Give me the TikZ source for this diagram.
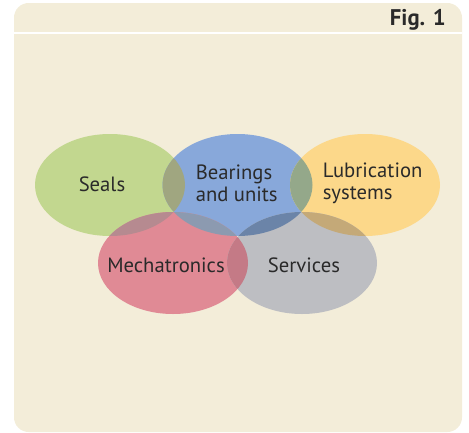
\documentclass[tikz,border=0pt]{standalone}
\usepackage{fontspec}
\setmainfont{PT Sans}
\usetikzlibrary{shapes.geometric}

\definecolor{panelbg}{HTML}{F3EDD9}
\definecolor{textgrey}{HTML}{2A2A2A}
\definecolor{sealgreen}{HTML}{C2D78F}
\definecolor{bearblue}{HTML}{88A8DA}
\definecolor{lubeyellow}{HTML}{FCD88A}
\definecolor{mechred}{HTML}{E08A95}
\definecolor{servgrey}{HTML}{BDBEC2}
% overlaps
\definecolor{ovGB}{HTML}{A0A680}
\definecolor{ovBY}{HTML}{94A88A}
\definecolor{ovGR}{HTML}{B68A90}
\definecolor{ovBR}{HTML}{8C9AB0}
\definecolor{ovBS}{HTML}{6B84A8}
\definecolor{ovYS}{HTML}{C4A978}
\definecolor{ovRS}{HTML}{C47A86}
\definecolor{ovBRS}{HTML}{7A819E}

\tikzset{
  ring/.style={ellipse,minimum width=112.5pt,minimum height=76.5pt,inner sep=0pt},
  ringtext/.style={font=\fontsize{15.5}{16.5}\selectfont,text=textgrey,align=left,inner sep=0pt}
}

\begin{document}
\begin{tikzpicture}[x=0.75pt,y=-0.75pt]
  \useasboundingbox (0,0) rectangle (469,433);
  % panel
  \fill[panelbg,rounded corners=11pt] (14,3) rectangle (462,432);
  \draw[white,line width=1.2pt] (14,33) -- (462,33);
  \node[font=\fontsize{17}{17}\selectfont\bfseries,text=textgrey,anchor=base east,inner sep=0pt] (fig) at (446,25) {Fig. 1};

  \coordinate (seals) at (110,185);
  \coordinate (bear) at (237.5,185);
  \coordinate (lube) at (365,185);
  \coordinate (mech) at (173,263);
  \coordinate (serv) at (302,263);

  \node[ring,fill=sealgreen] (sealsring) at (seals) {};
  \node[ring,fill=bearblue] (bearring) at (bear) {};
  \node[ring,fill=lubeyellow] (lubering) at (lube) {};
  \node[ring,fill=mechred] (mechring) at (mech) {};
  \node[ring,fill=servgrey] (servring) at (serv) {};

  % overlaps
  \foreach \a/\b/\col in {seals/bear/ovGB, bear/lube/ovBY, seals/mech/ovGR,
      bear/mech/ovBR, bear/serv/ovBS, lube/serv/ovYS, mech/serv/ovRS}
  {
    \begin{scope}
      \clip (\a) ellipse [x radius=75,y radius=51];
      \fill[\col] (\b) ellipse [x radius=75,y radius=51];
    \end{scope}
  }
  \begin{scope}
    \clip (bear) ellipse [x radius=75,y radius=51];
    \clip (mech) ellipse [x radius=75,y radius=51];
    \fill[ovBRS] (serv) ellipse [x radius=75,y radius=51];
  \end{scope}

  % labels
  \node[ringtext] (sealstext) at (102,184) {Seals};
  \node[ringtext,anchor=west] (beartext) at (195.5,183) {Bearings\\and units};
  \node[ringtext,anchor=west] (lubetext) at (322.5,183) {Lubrication\\systems};
  \node[ringtext] (mechtext) at (166,265) {Mechatronics};
  \node[ringtext] (servtext) at (304,265) {Services};
\end{tikzpicture}
\end{document}
